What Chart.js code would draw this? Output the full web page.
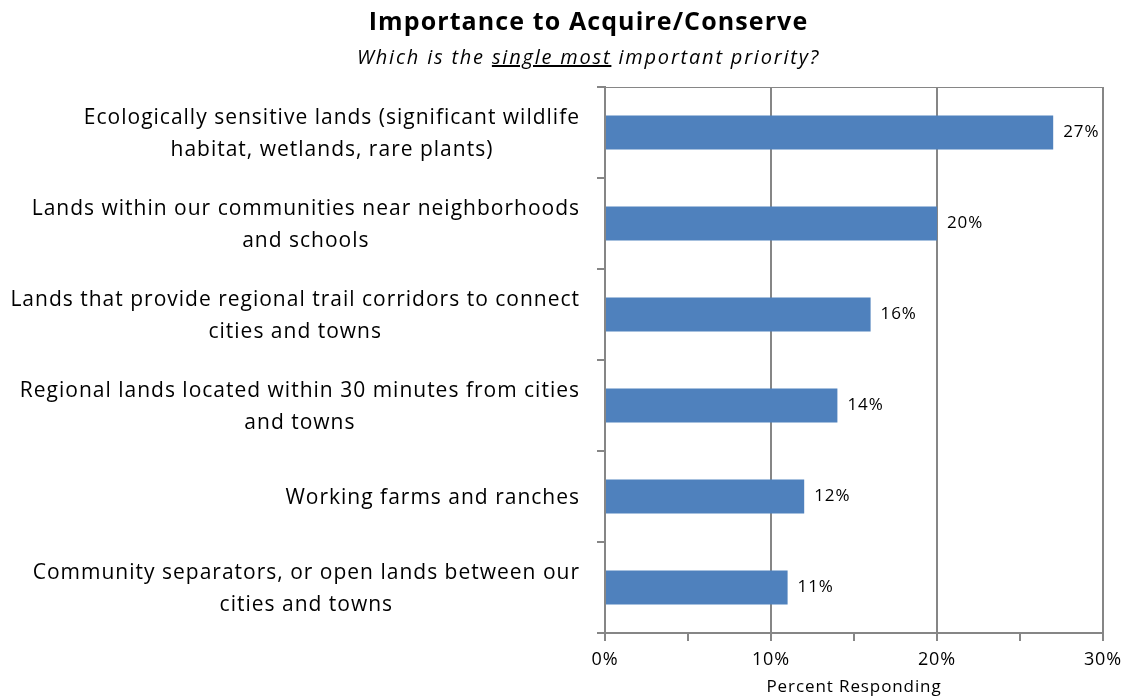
<!DOCTYPE html>
<html>
<head>
<meta charset="utf-8">
<script src="https://cdn.jsdelivr.net/npm/chart.js@4.4.1/dist/chart.umd.min.js"></script>
<style>
  body { margin: 0; background: #fff; }
  #wrap { position: relative; width: 1133px; height: 698px; font-family: "Open Sans", sans-serif; color: #000; }
  #title, #sub { position: absolute; left: 0; width: 1133px; padding-left: 44px; box-sizing: border-box; text-align: center; }
  #title { top: 3px; font-weight: bold; font-size: 25px; letter-spacing: 1.1px; }
  #sub { top: 43px; font-style: italic; font-size: 20px; letter-spacing: 1.8px; }
  canvas { position: absolute; left: 0; top: 0; }
</style>
</head>
<body>
<div id="wrap">
  <canvas id="prioritas" width="1133" height="698"></canvas>
  <div id="title">Importance to Acquire/Conserve</div>
  <div id="sub">Which is the <u>single most</u> important priority?</div>
</div>
<script>
// Kategori (tiap elemen = baris teks label)
const categories = [
    ['Ecologically sensitive lands (significant wildlife', 'habitat, wetlands, rare plants)'],
    ['Lands within our communities near neighborhoods', 'and schools'],
    ['Lands that provide regional trail corridors to connect', 'cities and towns'],
    ['Regional lands located within 30 minutes from cities', 'and towns'],
    ['Working farms and ranches'],
    ['Community separators, or open lands between our', 'cities and towns']
];
const percentValues = [27, 20, 16, 14, 12, 11];
const xTicks = [0, 10, 20, 30];

const abu = '#868686';
const fontName = '"Open Sans", sans-serif';

// sedikit jarak huruf untuk semua teks di kanvas
const jarakHuruf = {
    id: 'jarakHuruf',
    beforeDraw(chart) {
        chart.ctx.letterSpacing = '0.9px';
    }
};

// label kategori: blok rata kanan, baris di tengah blok
const labelKategori = {
    id: 'labelKategori',
    afterDraw(chart) {
        const ctx = chart.ctx;
        const y = chart.scales.y;
        const kanan = 580;
        ctx.save();
        ctx.font = '21px ' + fontName;
        ctx.letterSpacing = '1px';
        ctx.fillStyle = '#000';
        ctx.textBaseline = 'middle';
        ctx.textAlign = 'center';
        categories.forEach((lines, i) => {
            const lebar = Math.max(...lines.map(l => ctx.measureText(l).width));
            const cx = kanan - lebar / 2;
            const cy = y.getPixelForValue(i) + 2;
            const lh = 32;
            lines.forEach((l, j) => {
                ctx.fillText(l, cx, cy + (j - (lines.length - 1) / 2) * lh);
            });
        });
        ctx.restore();
    }
};

// angka persen di ujung batang
const labelNilai = {
    id: 'labelNilai',
    afterDatasetsDraw(chart) {
        const ctx = chart.ctx;
        const meta = chart.getDatasetMeta(0);
        ctx.save();
        ctx.font = '17px ' + fontName;
        ctx.letterSpacing = '0.9px';
        ctx.fillStyle = '#000';
        ctx.textBaseline = 'middle';
        ctx.textAlign = 'left';
        meta.data.forEach((bar, i) => {
            ctx.fillText(percentValues[i] + '%', bar.x + 10, bar.y);
        });
        ctx.restore();
    }
};

// garis tepi atas area plot
const garisAtas = {
    id: 'garisAtas',
    beforeDatasetsDraw(chart) {
        const a = chart.chartArea;
        const ctx = chart.ctx;
        ctx.save();
        ctx.strokeStyle = abu;
        ctx.lineWidth = 1;
        ctx.beginPath();
        ctx.moveTo(a.left, a.top + 0.5);
        ctx.lineTo(a.right, a.top + 0.5);
        ctx.stroke();
        ctx.restore();
    }
};

const ctxPrioritas = document.getElementById('prioritas').getContext('2d');
const chartPrioritas = new Chart(ctxPrioritas, {
    type: 'bar',
    data: {
        labels: categories,
        datasets: [{
            label: 'Percent Responding',
            data: percentValues,
            backgroundColor: '#4F81BD',
            categoryPercentage: 1,
            barPercentage: 0.375
        }]
    },
    options: {
        indexAxis: 'y',
        responsive: false,
        animation: false,
        layout: { padding: { top: 87, right: 30, left: 0, bottom: 0 } },
        plugins: {
            legend: { display: false },
            tooltip: { enabled: false }
        },
        scales: {
            x: {
                min: 0,
                max: 30,
                afterFit: s => { s.height = 65; },
                afterBuildTicks: s => {
                    s.ticks = [0, 5, 10, 15, 20, 25, 30].map(v => ({ value: v }));
                },
                ticks: {
                    padding: 8,
                    maxRotation: 0,
                    color: '#000',
                    font: { family: fontName, size: 18 },
                    callback: v => xTicks.includes(v) ? v + '%' : ''
                },
                grid: {
                    color: c => (c.tick && xTicks.includes(c.tick.value) && c.tick.value !== 0) ? abu : 'rgba(0,0,0,0)',
                    tickColor: abu,
                    tickLength: 8,
                    lineWidth: 2
                },
                border: { color: abu, width: 2 },
                title: {
                    display: true,
                    text: 'Percent Responding',
                    color: '#000',
                    font: { family: fontName, size: 17 },
                    padding: { top: 0, bottom: 1 }
                }
            },
            y: {
                afterFit: s => { s.width = 605; },
                ticks: { display: false },
                grid: {
                    drawOnChartArea: false,
                    tickColor: abu,
                    tickLength: 8,
                    lineWidth: 2
                },
                border: { color: abu, width: 2 }
            }
        }
    },
    plugins: [jarakHuruf, labelKategori, labelNilai, garisAtas]
});
</script>
</body>
</html>
